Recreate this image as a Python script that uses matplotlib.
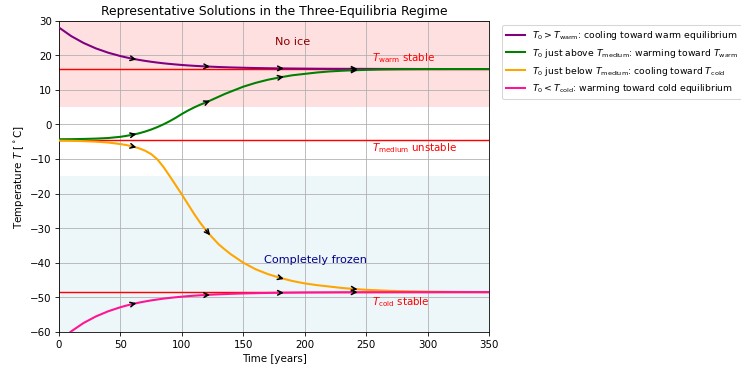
import numpy as np
import matplotlib
matplotlib.use("Agg")
import matplotlib.pyplot as plt

# ---- data ----
t = [0, 10, 20, 30, 40, 50, 55, 60, 65, 70, 75, 80, 85, 90, 95, 100, 105, 110, 115, 120,
     125, 130, 135, 140, 150, 160, 170, 180, 190, 200, 210, 220, 230, 240, 250, 260,
     270, 280, 290, 300, 310, 320, 330, 340, 350]

T_purple = [28.0, 25.51, 23.54, 21.97, 20.73, 19.75, 19.34, 18.97, 18.65, 18.36, 18.10, 17.87, 17.66,
            17.48, 17.32, 17.17, 17.04, 16.93, 16.83, 16.74, 16.66, 16.58, 16.52, 16.46, 16.37,
            16.29, 16.23, 16.18, 16.15, 16.12, 16.09, 16.07, 16.06, 16.05, 16.04, 16.03,
            16.02, 16.02, 16.01, 16.01, 16.0, 16.0, 16.0, 16.0, 16.0]

T_green = [-4.30, -4.28, -4.22, -4.12, -3.95, -3.6, -3.32, -3.0, -2.6, -2.1, -1.5, -0.8, 0.0,
           0.9, 1.9, 3.0, 4.0, 4.9, 5.7, 6.4, 7.2, 8.0, 8.8, 9.5, 10.9,
           12.0, 12.9, 13.6, 14.2, 14.6, 15.0, 15.3, 15.5, 15.65, 15.75, 15.85,
           15.9, 15.94, 15.96, 15.98, 15.99, 16.0, 16.0, 16.0, 16.0]

T_orange = [-4.70, -4.75, -4.85, -5.0, -5.25, -5.7, -6.0, -6.4, -6.9, -7.6, -8.6, -10.1, -12.3,
            -14.9, -17.6, -20.3, -23.1, -25.9, -28.5, -30.8, -32.8, -34.7, -36.2, -37.6, -40.0,
            -41.9, -43.3, -44.4, -45.3, -46.0, -46.5, -46.9, -47.3, -47.6, -47.85, -48.0,
            -48.15, -48.25, -48.32, -48.38, -48.42, -48.45, -48.47, -48.48, -48.49]

T_pink = [-62.9, -59.85, -57.44, -55.55, -54.06, -52.88, -52.39, -51.95, -51.56, -51.22, -50.91, -50.65, -50.40,
          -50.19, -50.00, -49.83, -49.68, -49.55, -49.43, -49.33, -49.23, -49.15, -49.08, -49.01, -48.90,
          -48.82, -48.75, -48.70, -48.66, -48.62, -48.60, -48.58, -48.56, -48.55, -48.54, -48.53,
          -48.52, -48.52, -48.51, -48.51, -48.5, -48.5, -48.5, -48.5, -48.5]

T_warm = 16.0
T_medium = -4.5
T_cold = -48.5

arrow_times = [60, 120, 180, 240]

labels = [
    r"$T_0 > T_\mathrm{warm}$: cooling toward warm equilibrium",
    r"$T_0$ just above $T_\mathrm{medium}$: warming toward $T_\mathrm{warm}$",
    r"$T_0$ just below $T_\mathrm{medium}$: cooling toward $T_\mathrm{cold}$",
    r"$T_0 < T_\mathrm{cold}$: warming toward cold equilibrium",
]
colors = ["purple", "green", "orange", "deeppink"]
series = [T_purple, T_green, T_orange, T_pink]

# ---- figure ----
fig = plt.figure(figsize=(10, 5), dpi=74.1)
ax = fig.add_axes([0.0796, 0.103, 0.5804, 0.840])

ax.axhspan(5, 30, color="red", alpha=0.12, lw=0, zorder=0)
ax.axhspan(-60, -15, color="lightblue", alpha=0.22, lw=0, zorder=0)

for y in (T_warm, T_medium, T_cold):
    ax.axhline(y, color="red", lw=1.4, zorder=2)

for vals, c, lab in zip(series, colors, labels):
    ax.plot(t, vals, color=c, lw=2, label=lab, zorder=3)

for vals in series:
    for ta in arrow_times:
        i = t.index(ta)
        slope = (vals[i + 1] - vals[i - 1]) / (t[i + 1] - t[i - 1])
        step = 3.0
        ax.annotate("", xy=(t[i] + step, vals[i] + step * slope),
                    xytext=(t[i] - 0.5, vals[i] - 0.5 * slope),
                    arrowprops=dict(arrowstyle="->", color="black", lw=1.5,
                                    mutation_scale=11, shrinkA=0, shrinkB=0),
                    zorder=4)

ax.text(190, 24, "No ice", color="darkred", fontsize=11, ha="center", va="center")
ax.text(209, -39, "Completely frozen", color="darkblue", fontsize=11, ha="center", va="center")
ax.text(255, 19.2, r"$T_\mathrm{warm}$ stable", color="red", fontsize=10, ha="left", va="center")
ax.text(255, -6.7, r"$T_\mathrm{medium}$ unstable", color="red", fontsize=10, ha="left", va="center")
ax.text(255, -51.2, r"$T_\mathrm{cold}$ stable", color="red", fontsize=10, ha="left", va="center")

ax.set_xlim(0, 350)
ax.set_ylim(-60, 30)
ax.set_xticks(np.arange(0, 351, 50))
ax.set_yticks(np.arange(-60, 31, 10))
ax.grid(True)
ax.set_xlabel("Time [years]")
ax.set_ylabel(r"Temperature $T$ [$^\circ$C]")
ax.set_title("Representative Solutions in the Three-Equilibria Regime")
ax.legend(loc="upper left", bbox_to_anchor=(1.02, 1), fontsize=9)

fig.savefig("out.png", dpi=74.1)
